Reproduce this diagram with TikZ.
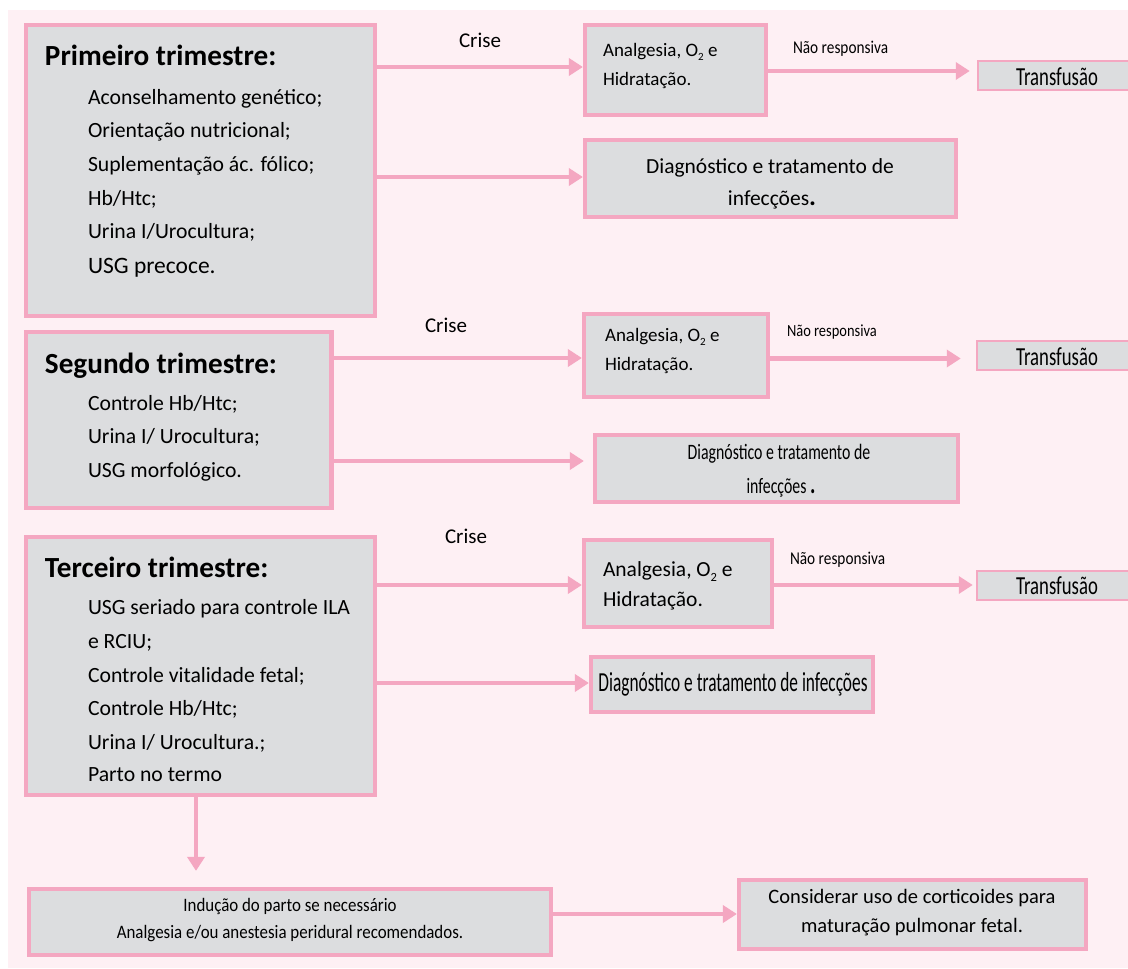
\documentclass[tikz,border=0pt]{standalone}
\usepackage{fontspec}
\setmainfont{Carlito}
\newfontfamily\cnA[FakeStretch=0.85]{Carlito}
\newfontfamily\cnB[FakeStretch=0.72]{Carlito}
\newfontfamily\cnC[FakeStretch=0.63]{Carlito}
\newfontfamily\cnD[FakeStretch=0.89]{Carlito}
\usetikzlibrary{arrows.meta}
\definecolor{pk}{HTML}{F4A7C1}
\definecolor{bgp}{HTML}{FEF0F4}
\definecolor{boxg}{HTML}{DCDDDF}
\newcommand{\setfs}[1]{\fontsize{#1}{#1}\selectfont}
\newcommand{\osub}[1]{O\raisebox{-0.5ex}{\setfs{#1}2}}
\newcommand{\mkbox}[6]{%
  \pgfmathsetmacro{\bw}{#5-#3}\pgfmathsetmacro{\bh}{#6-#4}%
  \pgfmathsetmacro{\bcx}{(#3+#5)/2}\pgfmathsetmacro{\bcy}{(#4+#6)/2}%
  \node[#1, minimum width=\bw pt, minimum height=\bh pt] (#2) at (\bcx,\bcy) {};}
\begin{document}
\begin{tikzpicture}[x=1pt,y=-1pt,
  box/.style={draw=pk, line width=4.2pt, fill=boxg, rectangle, inner sep=0pt},
  tbox/.style={draw=pk, line width=2.5pt, fill=boxg, rectangle, inner sep=0pt},
  arr/.style={draw=pk, line width=4.3pt, -{Triangle[length=14pt,width=17pt]}},
  txt/.style={inner sep=0pt, outer sep=0pt, text=black}]
\useasboundingbox (0,0) rectangle (1128,969);
\clip (0,0) rectangle (1128,969);
\fill[white] (0,0) rectangle (1128,969);
\fill[bgp] (8,10) rectangle (1140,968);
% boxes
\mkbox{box}{P1}{26}{25}{375}{316}
\mkbox{box}{A1}{585}{25}{766}{115}
\mkbox{box}{D1}{585}{140}{956}{217}
\mkbox{tbox}{T1}{978}{61}{1160}{90}
\mkbox{box}{S2}{26}{332}{331.5}{508}
\mkbox{box}{A2}{584}{314}{768}{397}
\mkbox{box}{D2}{595}{435}{958}{502}
\mkbox{tbox}{T2}{977}{341}{1160}{370}
\mkbox{box}{Q3}{26}{537}{375}{795}
\mkbox{box}{A3}{584}{540}{772}{627}
\mkbox{box}{D3}{591}{657}{873}{712}
\mkbox{tbox}{T3}{977}{571}{1160}{600}
\mkbox{box}{B}{29}{889}{551}{955}
\mkbox{box}{C}{739}{880}{1086}{949}
% arrows
\draw[arr] (P1.east |- 0,67) -- (A1.west |- 0,67);
\draw[arr] (P1.east |- 0,177) -- (D1.west |- 0,177);
\draw[arr, shorten >=7pt] (A1.east |- 0,71) -- (T1.west |- 0,71);
\draw[arr] (S2.east |- 0,358) -- (A2.west |- 0,358);
\draw[arr, shorten >=9pt] (S2.east |- 0,461) -- (D2.west |- 0,461);
\draw[arr, shorten >=15pt] (A2.east |- 0,358.5) -- (T2.west |- 0,358.5);
\draw[arr] (Q3.east |- 0,585) -- (A3.west |- 0,585);
\draw[arr] (Q3.east |- 0,683) -- (D3.west |- 0,683);
\draw[arr, shorten >=3pt] (A3.east |- 0,585) -- (T3.west |- 0,585);
\draw[arr, shorten >=16pt] (Q3.south -| 196,0) -- (B.north -| 196,0);
\draw[arr] (B.east |- 0,914) -- (C.west |- 0,914);
% row 1 texts
\node[txt,anchor=base west] (p1h) at (45,65) {\setfs{29.2}\bfseries Primeiro trimestre:};
\node[txt,anchor=base west] (p1a) at (88,104) {\setfs{21.7}Aconselhamento genético;};
\node[txt,anchor=base west] (p1b) at (88,137.5) {\setfs{21.7}Orientação nutricional;};
\node[txt,anchor=base west] (p1c) at (88,171) {\setfs{21.7}Suplementação ác. fólico;};
\node[txt,anchor=base west] (p1d) at (88,205) {\setfs{21.7}Hb/Htc;};
\node[txt,anchor=base west] (p1e) at (88,238) {\setfs{21.7}Urina I/Urocultura;};
\node[txt,anchor=base west] (p1f) at (88,273) {\setfs{23.5}USG precoce.};
\node[txt,anchor=base] (c1) at (480,47) {\setfs{21}Crise};
\node[txt,anchor=base west] (a1a) at (603,56) {\setfs{19}Analgesia, \osub{11} e};
\node[txt,anchor=base west] (a1b) at (603,85) {\setfs{19}Hidratação.};
\node[txt,anchor=base west] (n1) at (793,53) {\cnA\setfs{18}Não responsiva};
\node[txt,anchor=base] (t1) at (1057,85) {\cnB\setfs{26}Transfusão};
\node[txt,anchor=base] (d1a) at (770,173) {\setfs{21.5}Diagnóstico e tratamento de};
\node[txt,anchor=base] (d1b) at (772,205) {\setfs{21.5}infecções{\setfs{26}\bfseries .}};
% row 2 texts
\node[txt,anchor=base west] (s2h) at (45,373) {\setfs{29.2}\bfseries Segundo trimestre:};
\node[txt,anchor=base west] (s2a) at (88,410) {\setfs{21.7}Controle Hb/Htc;};
\node[txt,anchor=base west] (s2b) at (88,443) {\setfs{21.7}Urina I/ Urocultura;};
\node[txt,anchor=base west] (s2c) at (88,477) {\setfs{21.7}USG morfológico.};
\node[txt,anchor=base] (c2) at (446,332) {\setfs{21}Crise};
\node[txt,anchor=base west] (a2a) at (605,341) {\setfs{19}Analgesia, \osub{11} e};
\node[txt,anchor=base west] (a2b) at (605,370) {\setfs{19}Hidratação.};
\node[txt,anchor=base west] (n2) at (787,336) {\cnA\setfs{17}Não responsiva};
\node[txt,anchor=base] (t2) at (1057,365) {\cnB\setfs{26}Transfusão};
\node[txt,anchor=base] (d2a) at (779,459) {\cnB\setfs{22}Diagnóstico e tratamento de};
\node[txt,anchor=base] (d2b) at (781,493) {\cnB\setfs{22}infecções {\setfs{28}\bfseries .}};
% row 3 texts
\node[txt,anchor=base west] (q3h) at (45,577) {\setfs{29.2}\bfseries Terceiro trimestre:};
\node[txt,anchor=base west] (q3a) at (88,614) {\setfs{21.7}USG seriado para controle ILA};
\node[txt,anchor=base west] (q3b) at (88,648) {\setfs{21.7}e RCIU;};
\node[txt,anchor=base west] (q3c) at (88,682) {\setfs{21.7}Controle vitalidade fetal;};
\node[txt,anchor=base west] (q3d) at (88,715) {\setfs{21.7}Controle Hb/Htc;};
\node[txt,anchor=base west] (q3e) at (88,749) {\setfs{21.7}Urina I/ Urocultura.;};
\node[txt,anchor=base west] (q3f) at (88,781) {\setfs{21.7}Parto no termo};
\node[txt,anchor=base] (c3) at (466,543) {\setfs{21}Crise};
\node[txt,anchor=base west] (a3a) at (603,576) {\setfs{21.5}Analgesia, \osub{12.5} e};
\node[txt,anchor=base west] (a3b) at (603,606) {\setfs{21.5}Hidratação.};
\node[txt,anchor=base west] (n3) at (790,564) {\cnA\setfs{18}Não responsiva};
\node[txt,anchor=base] (t3) at (1057,594) {\cnB\setfs{26}Transfusão};
\node[txt,anchor=base] (d3a) at (733,691) {\cnC\setfs{27.5}Diagnóstico e tratamento de infecções};
% bottom texts
\node[txt,anchor=base] (b1) at (290,911) {\cnD\setfs{19}Indução do parto se necessário};
\node[txt,anchor=base] (b2) at (290,938) {\cnD\setfs{19}Analgesia e/ou anestesia peridural recomendados.};
\node[txt,anchor=base] (k1) at (912,903) {\setfs{20.5}Considerar uso de corticoides para};
\node[txt,anchor=base] (k2) at (912,932) {\setfs{20.5}maturação pulmonar fetal.};
\end{tikzpicture}
\end{document}
